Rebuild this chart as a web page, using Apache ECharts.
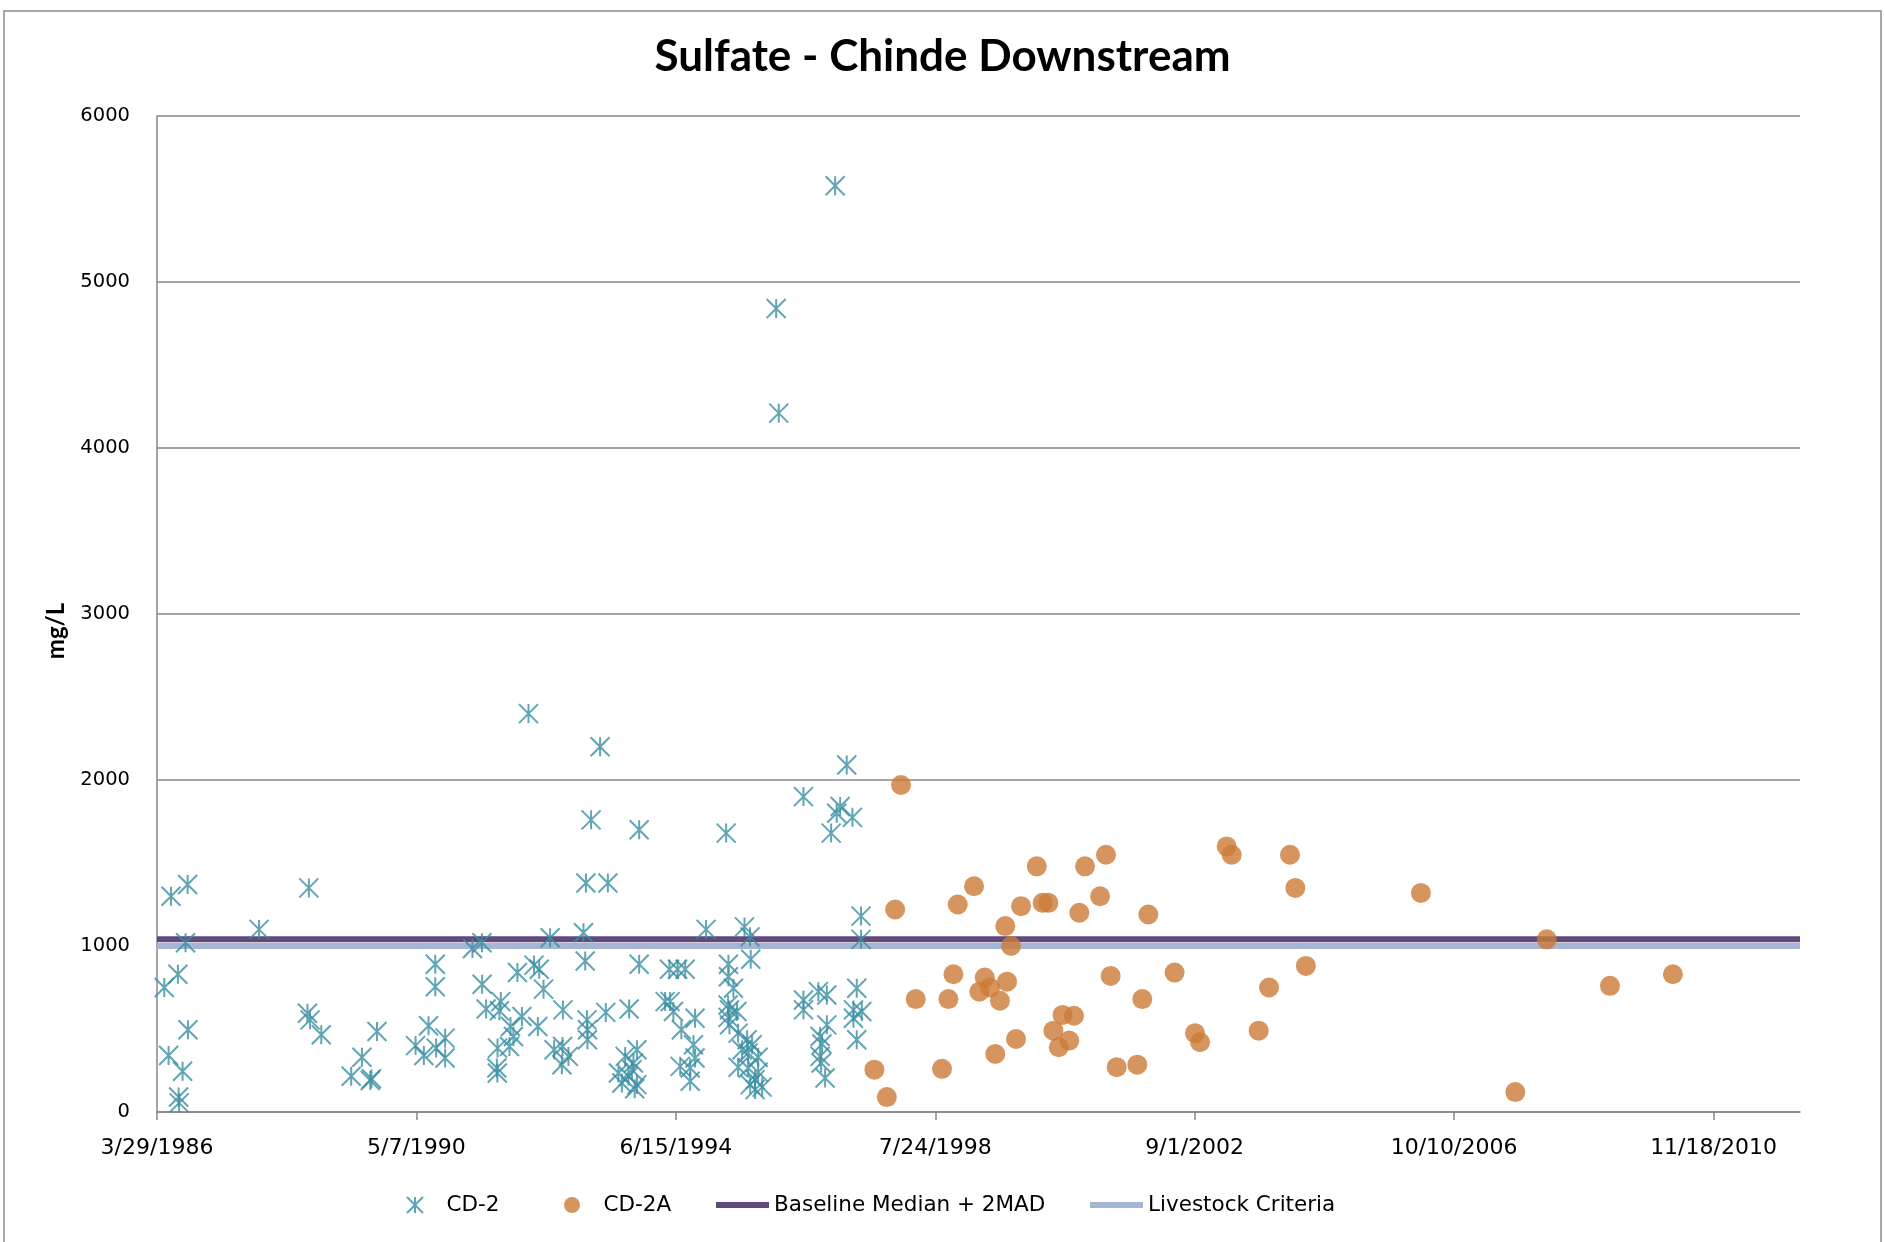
<!DOCTYPE html>
<html><head><meta charset="utf-8">
<script src="https://cdn.jsdelivr.net/npm/echarts@6/dist/echarts.min.js"></script>
<style>html,body{margin:0;padding:0;background:#fff}#c{width:1885px;height:1242px}</style>
</head><body><div id="c"></div>
<script>
// Sample dates are Excel serial day numbers (31500 = 3/29/1986)
const cd2Dates = [31542,31567,31581,31621,31625,31628,31648,31665,31677,31679,32090,32370,32378,32385,32450,32623,32685,32733,32740,32772,32995,33043,33070,33109,33109,33114,33166,33166,33324,33379,33380,33403,33465,33468,33469,33480,33488,33538,33544,33561,33584,33610,33648,33680,33702,33710,33735,33773,33796,33841,33845,33847,33879,33966,33976,33980,33986,33989,33989,34010,34062,34095,34107,34168,34188,34207,34226,34230,34246,34255,34262,34275,34275,34288,34288,34438,34463,34467,34486,34510,34525,34532,34554,34583,34583,34602,34611,34611,34675,34791,34802,34802,34804,34804,34810,34810,34833,34853,34860,34860,34883,34897,34912,34918,34918,34929,34930,34933,34941,34958,34958,34976,34976,34999,35080,35095,35238,35238,35238,35324,35334,35334,35340,35345,35363,35373,35373,35398,35421,35430,35450,35488,35521,35527,35527,35546,35546,35571,35571,35575];
const cd2Values = [750,340,1300,830,90,55,245,1020,1370,495,1100,595,1350,555,465,215,330,190,200,485,400,340,520,890,755,385,445,325,985,1020,770,620,265,235,385,610,665,395,515,455,840,575,2400,885,515,860,740,1050,375,285,395,615,335,1080,910,1380,555,495,435,1760,2200,600,1380,235,175,335,215,620,255,295,140,375,165,1700,890,665,860,665,605,860,275,495,860,265,185,405,565,325,1100,1680,645,570,890,815,525,615,745,605,475,270,375,1115,435,355,265,1055,165,920,405,195,135,330,240,150,4840,4210,1900,675,615,725,455,335,295,410,205,705,525,1680,5580,1800,1840,2090,1775,615,565,745,435,1180,1040,605];
const cd2aDates = [35648,35720,35768,35802,35887,36039,36076,36105,36130,36224,36255,36286,36317,36347,36374,36405,36415,36438,36467,36496,36587,36621,36654,36683,36714,36736,36775,36802,36833,36866,36953,36987,37014,37049,37168,37197,37232,37384,37502,37531,37685,37714,37870,37930,38051,38082,38143,38808,39354,39536,39901,40265];
const cd2aValues = [255,90,1220,1970,680,260,680,830,1250,1360,725,810,750,350,670,1120,785,1000,440,1240,1480,1260,1260,490,390,585,430,580,1200,1480,1300,1550,820,270,285,680,1190,840,475,420,1600,1550,490,750,1550,1350,880,1320,120,1040,760,830];
const baselineValue = 1040;   // Baseline Median + 2MAD
const livestockValue = 1000;  // Livestock Criteria
const xMin = 31500, xMax = 41000, xStep = 1500;
const xTickSerials = [31500,33000,34500,36000,37500,39000,40500];
const yTicks = [0,1000,2000,3000,4000,5000,6000];

function serialToLabel(s){
  const d = new Date(Date.UTC(1899,11,30) + s*86400000);
  return (d.getUTCMonth()+1) + '/' + d.getUTCDate() + '/' + d.getUTCFullYear();
}
const zip = (a,b) => a.map((v,i)=>[v,b[i]]);

const TEAL = '#3a8fa3', ORANGE = '#cc7b36', PURPLE = '#604a7b', LIGHT = '#a5b6d4', GRID = '#878787';
const FONT = 'DejaVu Sans';
const starPath = 'path://M0,0L20,20M20,0L0,20M10,0L10,20';
const barIcon = 'path://M0,0L53,0L53,6L0,6Z';

const chart = echarts.init(document.getElementById('c'), null, {renderer:'canvas'});
const legendBase = {orient:'horizontal', top:1194, padding:0, itemWidth:53, itemHeight:16,
  textStyle:{fontFamily:FONT, fontSize:21.5, color:'#000'}};
chart.setOption({
  animation:false,
  backgroundColor:'#fff',
  title:{text:'Sulfate - Chinde Downstream', left:'center', top:30,
    textStyle:{fontFamily:'Lato', fontWeight:'bold', fontSize:44, color:'#000'}},
  graphic:[
    {type:'rect', shape:{x:4,y:11,width:1877,height:1260}, silent:true,
      style:{fill:'none', stroke:'#8c8c8c', lineWidth:1.5}},
    {type:'text', x:56, y:631, rotation:Math.PI/2, silent:true,
      style:{text:'mg/L', fontFamily:'Lato', fontWeight:'bold', fontSize:24, fill:'#000',
        align:'center', verticalAlign:'middle'}}
  ],
  legend:[
    Object.assign({}, legendBase, {left:406, data:['CD-2']}),
    Object.assign({}, legendBase, {left:564, data:['CD-2A']}),
    Object.assign({}, legendBase, {left:716, data:[{name:'Baseline Median + 2MAD', icon:barIcon}]}),
    Object.assign({}, legendBase, {left:1090, data:[{name:'Livestock Criteria', icon:barIcon}]})
  ],
  grid:{left:157, right:85, top:116, bottom:130},
  xAxis:{type:'value', min:xMin, max:xMax, interval:xStep,
    axisLine:{show:true, lineStyle:{color:GRID, width:1.5}},
    axisTick:{show:true, length:8, inside:false, customValues:xTickSerials, lineStyle:{color:GRID, width:1.5}},
    axisLabel:{customValues:xTickSerials, formatter:serialToLabel, margin:25,
      fontFamily:FONT, fontSize:22, color:'#000'},
    splitLine:{show:false}},
  yAxis:{type:'value', min:yTicks[0], max:yTicks[yTicks.length-1], interval:1000,
    axisLine:{show:true, lineStyle:{color:GRID, width:1.5}},
    axisTick:{show:false},
    axisLabel:{margin:27, fontFamily:FONT, fontSize:19.5, color:'#000', formatter:v => String(v)},
    splitLine:{show:true, lineStyle:{color:GRID, width:1.5}}},
  series:[
    {name:'CD-2', type:'scatter', z:5, symbol:starPath, symbolSize:19,
      itemStyle:{color:'rgba(0,0,0,0)', borderColor:TEAL, borderWidth:2},
      data:zip(cd2Dates, cd2Values)},
    {name:'CD-2A', type:'scatter', z:4, symbol:'circle', symbolSize:20,
      itemStyle:{color:ORANGE},
      data:zip(cd2aDates, cd2aValues)},
    {name:'Baseline Median + 2MAD', type:'line', z:3, showSymbol:false, symbol:'none',
      lineStyle:{color:PURPLE, width:6}, itemStyle:{color:PURPLE},
      data:[[xMin, baselineValue],[xMax, baselineValue]]},
    {name:'Livestock Criteria', type:'line', z:2, showSymbol:false, symbol:'none',
      lineStyle:{color:LIGHT, width:6}, itemStyle:{color:LIGHT},
      data:[[xMin, livestockValue],[xMax, livestockValue]]}
  ]
});
</script></body></html>
